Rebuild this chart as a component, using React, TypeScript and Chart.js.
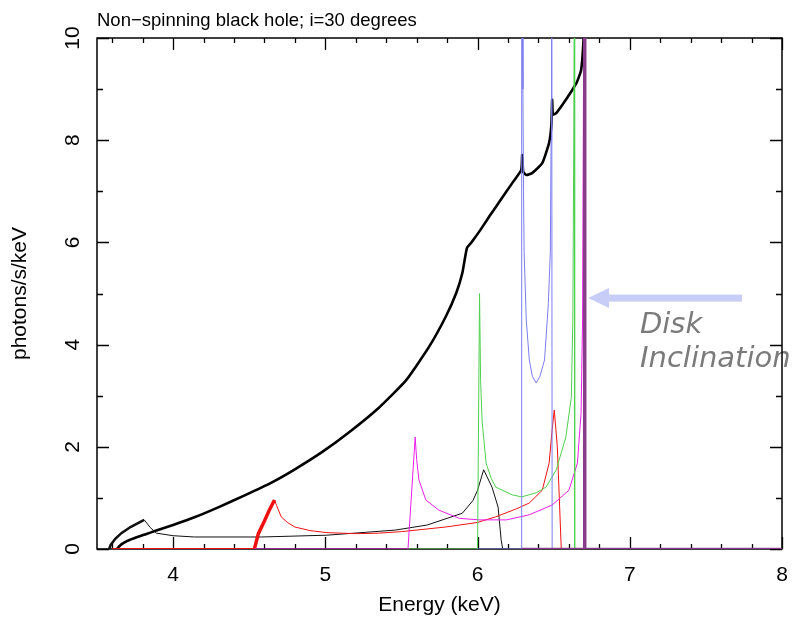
import React, { useEffect, useRef } from "react";
import { Chart, registerables } from "chart.js";
Chart.register(...registerables);

const TITLE = "Non\u2212spinning black hole; i=30 degrees";
const X_LABEL = "Energy (keV)";
const Y_LABEL = "photons/s/keV";
const NOTE_LINES = ["Disk", "Inclination"];
const X_TICKS = [4, 5, 6, 7, 8];
const Y_TICKS = [0, 2, 4, 6, 8, 10];

// thick black: full spectrum
const MAIN_E = [3.63, 3.66, 3.7, 3.76, 3.82, 3.89, 4.0, 4.14, 4.3, 4.47, 4.64, 4.8, 4.98, 5.15, 5.35, 5.53, 5.68, 5.79, 5.86, 5.9, 5.93, 5.96, 6.02, 6.08, 6.14, 6.23, 6.287, 6.293, 6.3, 6.32, 6.36, 6.425, 6.47, 6.485, 6.49, 6.495, 6.517, 6.58, 6.65, 6.68, 6.695, 6.702];
const MAIN_F = [0, 0.09, 0.16, 0.23, 0.29, 0.36, 0.47, 0.62, 0.82, 1.05, 1.29, 1.56, 1.9, 2.27, 2.76, 3.3, 3.95, 4.54, 5.01, 5.4, 5.89, 6.0, 6.25, 6.52, 6.78, 7.17, 7.42, 7.71, 7.38, 7.32, 7.36, 7.55, 7.95, 8.3, 8.79, 8.5, 8.53, 8.79, 9.12, 9.37, 9.9, 10.6];

// thin black line
const BLACK_E = [3.58, 3.59, 3.62, 3.66, 3.72, 3.81, 3.85, 3.89, 4.0, 4.14, 4.58, 5.01, 5.46, 5.67, 5.9, 5.97, 6.0, 6.04, 6.095, 6.135, 6.155, 6.165];
const BLACK_F = [0, 0.08, 0.2, 0.31, 0.43, 0.57, 0.42, 0.31, 0.26, 0.235, 0.235, 0.27, 0.37, 0.47, 0.7, 0.95, 1.15, 1.55, 1.21, 0.82, 0.18, 0];

// red line
const RED_E = [3.6, 4.534, 4.56, 4.6, 4.63, 4.666, 4.68, 4.71, 4.75, 4.8, 4.9, 5.01, 5.2, 5.35, 5.5, 5.79, 6.0, 6.12, 6.25, 6.34, 6.425, 6.47, 6.49, 6.504, 6.524, 6.55];
const RED_F = [0, 0, 0.3, 0.55, 0.75, 0.96, 0.85, 0.63, 0.52, 0.43, 0.36, 0.32, 0.3, 0.31, 0.34, 0.43, 0.52, 0.63, 0.78, 0.9, 1.15, 1.68, 2.33, 2.72, 2.0, 0];

// magenta line
const MAG_E = [4.534, 5.543, 5.59, 5.6, 5.615, 5.66, 5.746, 5.88, 6.01, 6.19, 6.34, 6.49, 6.6, 6.656, 6.68, 6.69, 6.698, 6.7];
const MAG_F = [0, 0, 2.19, 1.75, 1.35, 0.96, 0.76, 0.6, 0.57, 0.57, 0.67, 0.86, 1.15, 1.68, 2.66, 4.5, 10.5, 11];

// green line
const GREEN_E = [5.543, 6.0, 6.013, 6.02, 6.03, 6.056, 6.09, 6.12, 6.227, 6.29, 6.385, 6.45, 6.517, 6.58, 6.616, 6.626, 6.632, 6.636, 6.638];
const GREEN_F = [0, 0, 5.0, 3.3, 2.5, 1.68, 1.38, 1.21, 1.06, 1.02, 1.1, 1.21, 1.55, 2.19, 2.97, 4.5, 8, 11, 0];

// blue line
const BLUE_E = [6.0, 6.289, 6.29, 6.294, 6.298, 6.302, 6.306, 6.32, 6.34, 6.36, 6.385, 6.41, 6.44, 6.465, 6.478, 6.483, 6.486, 6.488, 6.49, 6.7];
const BLUE_F = [0, 0, 12, 12, 9, 7, 5.8, 4.48, 3.7, 3.38, 3.25, 3.38, 3.7, 4.8, 5.8, 8, 12, 12, 0, 0];

// purple line
const PURPLE_E = [6.29, 6.7, 6.701, 6.706, 6.707, 8.0];
const PURPLE_F = [0, 0, 11, 11, 0, 0];

const pts = (e: number[], f: number[]) => e.map((x, i) => ({ x, y: f[i] }));

const FONT = "'Liberation Sans', Arial, Helvetica, sans-serif";

const framePlugin = {
  id: "frame",
  beforeDatasetsDraw(chart: any) {
    const { ctx, chartArea: a, scales } = chart;
    const xs = scales.x;
    const ys = scales.y;
    ctx.save();
    // annotation arrow
    const ay = ys.getPixelForValue(4.91);
    const tipX = xs.getPixelForValue(6.726);
    const tailX = xs.getPixelForValue(7.737);
    ctx.fillStyle = "#c8cdf7";
    ctx.fillRect(tipX + 18, ay - 3.5, tailX - tipX - 18, 7);
    ctx.beginPath();
    ctx.moveTo(tipX, ay);
    ctx.lineTo(tipX + 21, ay - 10);
    ctx.lineTo(tipX + 21, ay + 10);
    ctx.closePath();
    ctx.fill();
    // annotation text
    ctx.fillStyle = "#7b7b7b";
    ctx.font = "italic 29px 'DejaVu Sans', Verdana, sans-serif";
    ctx.textAlign = "left";
    ctx.textBaseline = "alphabetic";
    const tx = xs.getPixelForValue(7.067);
    NOTE_LINES.forEach((s, i) => ctx.fillText(s, tx, ay + 35 + i * 34));
    // title
    ctx.fillStyle = "#000";
    ctx.font = "18.5px " + FONT;
    ctx.fillText(TITLE, a.left, a.top - 12);
    // box
    ctx.strokeStyle = "#000";
    ctx.lineWidth = 1.5;
    ctx.strokeRect(a.left, a.top, a.right - a.left, a.bottom - a.top);
    // inward ticks
    ctx.lineWidth = 1.3;
    ctx.beginPath();
    for (let k = 18; k <= 40; k++) {
      const v = k / 5;
      const px = Math.round(xs.getPixelForValue(v)) + 0.5;
      const len = k % 5 === 0 ? 12 : 5;
      ctx.moveTo(px, a.bottom);
      ctx.lineTo(px, a.bottom - len);
      ctx.moveTo(px, a.top);
      ctx.lineTo(px, a.top + len);
    }
    for (let v = 0; v <= 10; v++) {
      const py = Math.round(ys.getPixelForValue(v)) + 0.5;
      const len = v % 2 === 0 ? 12 : 6;
      ctx.moveTo(a.left, py);
      ctx.lineTo(a.left + len, py);
      ctx.moveTo(a.right, py);
      ctx.lineTo(a.right - len, py);
    }
    ctx.stroke();
    ctx.restore();
  },
};

export default function App() {
  const ref = useRef<HTMLCanvasElement>(null);
  useEffect(() => {
    document.body.style.margin = "0";
    document.body.style.overflow = "hidden";
    Chart.defaults.font.family = FONT;
    Chart.defaults.color = "#000";
    const thin = (label: string, e: number[], f: number[], color: string, width = 1) => ({
      label,
      data: pts(e, f),
      borderColor: color,
      borderWidth: width,
      pointRadius: 0,
      tension: 0,
      fill: false,
    });
    const chart = new Chart(ref.current!, {
      type: "line",
      data: {
        datasets: [
          thin("purple", PURPLE_E, PURPLE_F, "#8b3b8b", 2.6),
          thin("blue", BLUE_E, BLUE_F, "#7c7cef", 1),
          thin("green", GREEN_E, GREEN_F, "#4fd04f", 1),
          thin("magenta", MAG_E, MAG_F, "#e81ee8", 1),
          {
            ...thin("red", RED_E, RED_F, "#ee1111", 1),
            segment: {
              borderWidth: (c: any) => (c.p0.parsed.x >= 4.53 && c.p1.parsed.x <= 4.67 ? 3.5 : c.p1.parsed.x <= 4.534 ? 2 : 1),
            },
          },
          {
            ...thin("black", BLACK_E, BLACK_F, "#111", 1),
            segment: {
              borderWidth: (c: any) => (c.p1.parsed.x <= 3.81 ? 2.6 : 1),
            },
          },
          { ...thin("total", MAIN_E, MAIN_F, "#000", 2.6), tension: 0.15 },
        ],
      },
      options: {
        responsive: false,
        animation: false,
        events: [],
        layout: { padding: { left: 0, right: 10, top: 38, bottom: 0 } },
        plugins: { legend: { display: false }, tooltip: { enabled: false }, title: { display: false } },
        scales: {
          x: {
            type: "linear",
            min: 3.5,
            max: 8,
            grid: { display: false, drawTicks: false },
            border: { display: false },
            afterBuildTicks: (s: any) => {
              s.ticks = X_TICKS.map((v) => ({ value: v }));
            },
            afterFit: (s: any) => {
              s.height = 74;
              s.paddingLeft = 0;
              s.paddingRight = 0;
            },
            ticks: { font: { size: 21 }, padding: 14, maxRotation: 0, autoSkip: false, callback: (v: any) => String(v) },
            title: { display: true, text: X_LABEL, font: { size: 21 }, padding: { top: 0, bottom: 5 } },
          },
          y: {
            type: "linear",
            min: 0,
            max: 10,
            grid: { display: false, drawTicks: false },
            border: { display: false },
            afterBuildTicks: (s: any) => {
              s.ticks = Y_TICKS.map((v) => ({ value: v }));
            },
            afterFit: (s: any) => {
              s.width = 97;
              s.paddingTop = 0;
              s.paddingBottom = 0;
            },
            ticks: { font: { size: 21 }, padding: 12, minRotation: 90, maxRotation: 90, crossAlign: "center", autoSkip: false, callback: (v: any) => String(v) },
            title: { display: true, text: Y_LABEL, font: { size: 21 }, padding: { top: 8, bottom: 0 } },
          },
        },
      },
      plugins: [framePlugin],
    } as any);
    return () => chart.destroy();
  }, []);
  return <canvas ref={ref} width={792} height={623} style={{ display: "block", width: 792, height: 623 }} />;
}
